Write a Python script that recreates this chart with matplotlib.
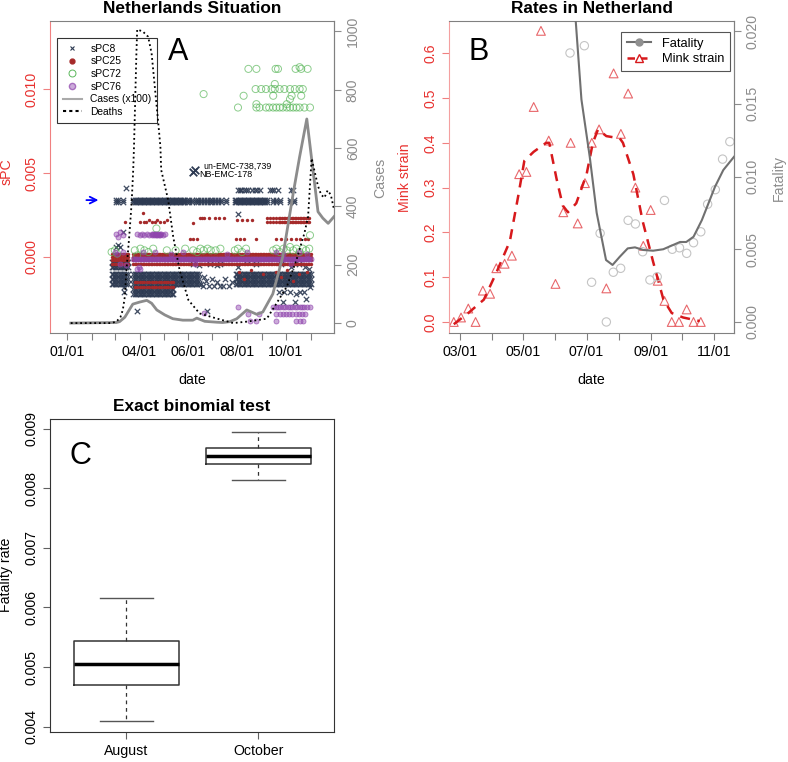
import matplotlib
matplotlib.use('Agg')
import matplotlib.pyplot as plt
from matplotlib.lines import Line2D

plt.rcParams['font.family'] = ['Liberation Sans', 'DejaVu Sans']

RED = '#E8312F'
GRAY = '#8C8C8C'
NAVY = '#2D3A52'
BROWN = '#A52A2A'
GREEN = '#5CB85C'
PURPLE = '#8E44AD'
TICK_FS = 10.2

# ---------------- panel A data (x = days since 2020-01-01) ----------------
month_days_a = [0, 31, 60, 91, 121, 152, 182, 213, 244, 274, 305]
month_labels_a = ['01/01', '', '', '04/01', '', '06/01', '', '08/01', '', '10/01', '']

# sampling days of the dense bands
days_mar = [56, 58, 60, 62, 64, 66, 68, 70, 72, 74, 76]
days_spring = [83, 85, 87, 89, 91, 93, 95, 97, 99, 101, 103, 105, 107, 109, 111, 113, 115,
               117, 119, 121, 123, 125, 127, 129, 131, 133, 135, 137, 139, 141, 143, 145,
               147, 149, 151, 153, 155, 157, 159, 161, 163, 165]
days_summer = [167, 169, 171, 173, 175, 177, 179, 181, 183, 185, 187, 189, 191, 193, 195,
               197, 199, 201, 203, 205, 207, 209]
days_autumn = [211, 213, 215, 217, 219, 221, 223, 225, 227, 229, 231, 233, 235, 237, 239,
               241, 243, 245, 247, 249, 251, 253, 255, 257, 259, 261, 263, 265, 267, 269,
               271, 273, 275, 277, 279, 281, 283, 285, 287, 289, 291, 293, 295, 297, 299,
               301, 303, 305]

# sPC8
s8_top_days = [62, 64, 70, 83, 85, 87, 89, 91, 93, 95, 97, 99, 101, 103, 105, 107, 109, 111,
               113, 115, 117, 119, 121, 123, 125, 127, 129, 131, 133, 135, 137, 139, 141, 143,
               145, 147, 150, 153, 156, 161, 164, 168, 172, 175, 179, 182, 185, 189, 193, 199,
               210, 212, 214, 216, 218, 220, 222, 224, 226, 228, 230, 232, 234, 236, 238, 240,
               242, 244, 246, 248, 250, 258, 261, 266, 279, 284]
s8_top_levels = [0.00325, 0.0034]
s8_up_days = [214, 216, 218, 221, 224, 227, 232, 235, 238, 241, 254, 257, 259, 264, 280, 283]
s8_up_level = 0.0040
s8_mid_levels = [-0.0010, -0.0013, -0.0016]
s8_mid_summer_d = [168, 171, 174, 178, 181, 184, 188, 191, 195, 198, 203, 207]
s8_mid_summer_v = [-0.0016, -0.0012, -0.0014, -0.0017, -0.0013, -0.0017, -0.0015, -0.0017,
                   -0.0017, -0.0013, -0.0017, -0.0015]
s8_low_days = [83, 85, 87, 89, 91, 93, 95, 97, 99, 101, 103, 105, 107, 109, 111, 113, 115,
               117, 119, 121, 123, 125, 127, 129, 131, 133]
s8_low_levels = [-0.0019, -0.0022]
s8_near0_levels = [-0.0003, -0.0006]
s8_misc_d = [61, 64, 67, 158, 165, 179, 188, 191, 214, 225, 236, 268, 280, 290, 298, 303,
             265, 271, 279, 287, 292, 296, 270, 285, 304, 299, 74, 70, 71, 72, 88, 175, 214, 170]
s8_misc_v = [0.0006, 0.0007, 0.0006, -0.0004, -0.0005, -0.0004, -0.0005, -0.0004, -0.0006,
             -0.0002, -0.0004, -0.0004, -0.0006, -0.0004, -0.0006, -0.0007, -0.0021, -0.0021,
             -0.0021, -0.0022, -0.0021, -0.0021, -0.0027, -0.0027, -0.0018, -0.0025, 0.00413,
             0.00152, -0.0018, -0.0021, -0.0032, -0.0032, 0.00257, -0.0017]
s8_named_d = [158, 160]
s8_named_v = [0.00508, 0.00518]

# sPC25
s25_band_levels = [0.0002, 0.0, -0.0002, -0.0004]
s25_hi_d = [73, 92, 95, 96, 99, 103, 106, 110, 113, 117, 121, 125, 158, 166, 169, 172, 178,
            185, 190, 197, 213, 219, 225, 232]
s25_hi_v = [0.0021, 0.0021, 0.0026, 0.0021, 0.0021, 0.0022, 0.0021, 0.0021, 0.0022, 0.0021,
            0.0021, 0.0022, 0.0020, 0.0023, 0.0023, 0.0023, 0.0023, 0.0023, 0.0023, 0.0023,
            0.0022, 0.0022, 0.0022, 0.0022]
s25_oct_days = [250, 254, 258, 262, 265, 267, 269, 271, 273, 275, 277, 279, 281, 283, 285,
                287, 289, 291, 293, 295, 297, 299, 301, 303]
s25_oct_levels = [0.0021, 0.0023]
s25_mid_days = [154, 158, 163, 212, 217, 222, 237, 262, 268, 274, 280, 286, 292, 298, 302]
s25_mid_level = 0.0011
s25_low_days = [85, 88, 91, 94, 97, 100, 103, 106, 109, 112, 115, 118, 121, 124, 127, 130, 133]
s25_low_levels = [-0.0015, -0.0018]
s25_misc_d = [215, 222, 230, 245, 262, 268, 275, 283, 290, 300]
s25_misc_v = [-0.0009, -0.0013, -0.0008, -0.0010, -0.0009, -0.0012, -0.0008, -0.0014,
              -0.0010, -0.0009]

# sPC72
s72_d = [56, 60, 63, 85, 88, 92, 97, 102, 108, 125, 136, 148, 158, 163, 167, 171, 176, 180,
         186, 192, 210, 214, 219, 224, 258, 262, 266, 271, 275, 279, 283, 287, 291, 295, 299,
         303, 304, 112,
         227, 237, 261, 264, 286, 291, 293, 301,
         236, 243, 249, 256, 260, 266, 272, 279, 285, 291, 295, 260,
         171, 221, 258, 281, 293, 279,
         214, 237, 241, 249, 253, 258, 262, 266, 270, 275, 279, 283, 287, 291, 297, 304, 237, 275]
s72_v = [0.0003, 0.0004, 0.0002, 0.0004, 0.0001, 0.0005, 0.0004, 0.0003, 0.0005, 0.0004,
         0.0004, 0.0005, 0.0004, 0.0003, 0.0005, 0.0004, 0.0005, 0.0004, 0.0004, 0.0005,
         0.0004, 0.0005, 0.0003, 0.0005, 0.0004, 0.0005, 0.0003, 0.0005, 0.0004, 0.0006,
         0.0004, 0.0005, 0.0003, 0.0005, 0.0004, 0.0005, 0.0013, 0.0017,
         0.0112, 0.0112, 0.0112, 0.0112, 0.0112, 0.0113, 0.0112, 0.0112,
         0.0100, 0.0100, 0.0100, 0.0100, 0.0100, 0.0100, 0.0100, 0.0100, 0.0100, 0.0100,
         0.0100, 0.0103,
         0.0097, 0.0096, 0.0096, 0.0096, 0.0096, 0.0094,
         0.0089, 0.0089, 0.0089, 0.0089, 0.0089, 0.0089, 0.0089, 0.0089, 0.0089, 0.0089,
         0.0089, 0.0089, 0.0089, 0.0089, 0.0089, 0.0089, 0.0091, 0.0091]

# sPC76
s76_line_level = -0.0001
s76_d = [60, 63, 66, 70, 74, 88, 90, 92, 95, 110, 130, 145, 160, 200, 225, 262, 270, 280,
         290, 300,
         62, 64, 67, 70, 88, 91, 94, 97, 100, 103, 106, 107, 108, 109, 110, 111, 112, 113,
         114, 115, 116, 117, 118, 120, 123,
         214, 258, 261, 264, 267, 270, 273, 276, 279, 282, 285, 288, 291, 294, 297, 300, 304,
         227, 240, 262, 266, 270, 274, 278, 282, 286, 290, 294, 298,
         229, 237, 262, 287, 291, 295, 172]
s76_v = [0.0003, 0.0002, -0.0004, 0.0003, -0.0005, -0.0007, -0.0006, -0.0007, 0.0003,
         0.0003, 0.0002, 0.0003, -0.0004, 0.0002, 0.0003, 0.0003, 0.0002, -0.0004, 0.0003,
         0.0002,
         0.0014, 0.0012, 0.0015, 0.0013, 0.0014, 0.0013, 0.0014, 0.0013, 0.0014, 0.0013,
         0.0014, 0.0013, 0.0014, 0.0013, 0.0014, 0.0013, 0.0014, 0.0013, 0.0014, 0.0013,
         0.0014, 0.0013, 0.0014, 0.0013, 0.0014,
         -0.0030, -0.0030, -0.0030, -0.0030, -0.0030, -0.0030, -0.0030, -0.0030, -0.0030,
         -0.0030, -0.0030, -0.0030, -0.0030, -0.0030, -0.0030, -0.0030, -0.0030,
         -0.0034, -0.0034, -0.0034, -0.0034, -0.0034, -0.0034, -0.0034, -0.0034, -0.0034,
         -0.0034, -0.0034, -0.0034,
         -0.0038, -0.0038, -0.0038, -0.0038, -0.0038, -0.0038, -0.0033]

# cases (x100) and deaths, right axis
cases_d = [5, 62, 66, 72.5, 82.5, 91, 100, 106, 112.5, 122.5, 132.5, 145, 157.5, 162.5, 172.5,
           187.5, 195, 204, 212.5, 225, 237.5, 245, 257.5, 270, 283, 291, 300, 314, 320,
           326.7, 334]
cases_v = [0, 2, 5, 20, 65, 72, 78, 68, 45, 28, 15, 10, 10, 17, 6, 3, 2, 5, 15, 45, 30, 38,
           100, 228, 445, 570, 700, 382, 360, 342, 365]
deaths_d = [5, 55, 62, 67, 70, 72.5, 74.6, 78, 81, 83, 84, 87, 88, 95, 101.7, 106, 114, 117,
            118, 126.7, 133, 141, 152, 166, 187, 208, 225, 250, 262, 275, 287, 297, 301.6,
            306, 314, 318, 322, 326, 330, 334]
deaths_v = [0, 0, 5, 20, 45, 90, 182, 296, 410, 525, 605, 925, 1007, 1000, 982, 925, 696,
            605, 525, 422, 296, 182, 79, 33, 16, 0, 5, 15, 67, 125, 216, 308, 365, 565, 470,
            440, 430, 455, 440, 390]

# ---------------- panel B data ----------------
month_days_b = [60, 91, 121, 152, 182, 213, 244, 274, 305]
month_labels_b = ['03/01', '', '05/01', '', '07/01', '', '09/01', '', '11/01']
mink_d = [54, 61, 68, 75, 82, 89, 95, 103, 110, 117, 124, 131, 138, 145.5, 152, 159.5, 166.6,
          173.4, 180.4, 187, 194, 201, 208, 215, 222, 229, 236.6, 243.7, 250.5, 257, 264,
          271, 278.4, 285, 292]
mink_v = [0.0, 0.01, 0.03, 0.0, 0.07, 0.063, 0.12, 0.13, 0.148, 0.33, 0.335, 0.48, 0.65,
          0.405, 0.085, 0.245, 0.40, 0.22, 0.31, 0.40, 0.43, 0.075, 0.555, 0.42, 0.51, 0.30,
          0.17, 0.25, 0.092, 0.047, 0.0, 0.0, 0.028, 0.0, 0.0]
mink_smooth_d = [54, 68, 83, 95, 108, 116, 122, 131, 143, 146, 153, 159, 164, 172, 182, 188,
                 193, 201, 214, 217, 227, 236, 246, 256, 264, 275, 291]
mink_smooth_v = [-0.005, 0.02, 0.05, 0.11, 0.18, 0.28, 0.36, 0.38, 0.40, 0.40, 0.32, 0.26,
                 0.245, 0.265, 0.33, 0.40, 0.43, 0.415, 0.41, 0.40, 0.33, 0.225, 0.135, 0.05,
                 0.02, 0.01, 0.002]
fat_d = [166, 179.8, 186.8, 195, 201, 207.7, 214.8, 222, 229, 236, 243, 250, 257, 264.5,
         271.5, 278.4, 285, 292, 298.6, 306, 313, 320]
fat_v = [0.0185, 0.0190, 0.00273, 0.0061, 0.0, 0.00342, 0.00369, 0.00699, 0.00674, 0.00483,
         0.00289, 0.00311, 0.00836, 0.0050, 0.0051, 0.00472, 0.00545, 0.0062, 0.0081, 0.0091,
         0.0112, 0.0124]
fat_line_d = [160, 171.5, 177, 185, 191.7, 200.7, 207, 214, 221.6, 228.6, 236.6, 246, 255.8,
              265.5, 272, 278, 285, 293, 305.7, 313.7, 324]
fat_line_v = [0.030, 0.0207, 0.0153, 0.01136, 0.0075, 0.00426, 0.00392, 0.00449, 0.00506,
              0.00513, 0.00495, 0.0049, 0.0050, 0.0053, 0.0055, 0.0055, 0.00586, 0.0070,
              0.0093, 0.01045, 0.01136]

# ---------------- panel C data ----------------
box_labels = ['August', 'October']
box_whislo = [0.00409, 0.00814]
box_q1 = [0.0047, 0.0084]
box_med = [0.00505, 0.008545]
box_q3 = [0.00544, 0.00868]
box_whishi = [0.00616, 0.00895]


def rot_yticks(ax):
    for lab in ax.get_yticklabels():
        lab.set_rotation(90)
        lab.set_va('center')


def band(ax, days, levels, **kw):
    for lv in levels:
        ax.scatter(days, [lv] * len(days), **kw)


fig = plt.figure(figsize=(7.88, 7.62), dpi=100)
W, H = 788.0, 762.0
axA = fig.add_axes([50 / W, 1 - 333 / H, 284 / W, 312 / H])
axB = fig.add_axes([449 / W, 1 - 333 / H, 285 / W, 312 / H])
axC = fig.add_axes([50 / W, 1 - 732 / H, 284 / W, 313 / H])

kw8 = dict(marker='x', s=15, c=NAVY, linewidths=0.9, alpha=0.9)
kw25 = dict(marker='o', s=6, c=BROWN, linewidths=0)
kw72 = dict(marker='o', s=26, facecolors='none', edgecolors=GREEN, linewidths=0.7, alpha=0.7)
kw76 = dict(marker='o', s=13, facecolors=(0.56, 0.27, 0.68, 0.45),
            edgecolors=(0.56, 0.27, 0.68, 0.7), linewidths=0.6)

# ---- A: scatter on sPC axis
band(axA, s8_top_days, s8_top_levels, **kw8)
band(axA, s8_up_days, [s8_up_level], **kw8)
band(axA, days_mar + days_spring + days_autumn, s8_mid_levels, **kw8)
axA.scatter(s8_mid_summer_d, s8_mid_summer_v, **kw8)
band(axA, s8_low_days, s8_low_levels, **kw8)
band(axA, days_mar, s8_near0_levels, **kw8)
axA.scatter(s8_misc_d, s8_misc_v, **kw8)
axA.scatter(s8_named_d, s8_named_v, marker='x', s=30, c=NAVY, linewidths=1.3)

all_days = days_mar + days_spring + days_summer + days_autumn
band(axA, all_days, s25_band_levels, **kw25)
axA.scatter(s25_hi_d, s25_hi_v, **kw25)
band(axA, s25_oct_days, s25_oct_levels, **kw25)
band(axA, s25_mid_days, [s25_mid_level], **kw25)
band(axA, s25_low_days, s25_low_levels, **kw25)
axA.scatter(s25_misc_d, s25_misc_v, **kw25)

axA.scatter(s72_d, s72_v, **kw72)

band(axA, days_spring + days_summer + days_autumn, [s76_line_level], **kw76)
axA.scatter(s76_d, s76_v, **kw76)

axA.annotate('', xy=(43, 0.00339), xytext=(21, 0.00339),
             arrowprops=dict(arrowstyle='->', color='blue', lw=1.3, mutation_scale=12))
axA.text(171, 0.00542, 'un-EMC-738,739', fontsize=6.4, va='center', ha='left')
axA.text(166, 0.00492, 'NB-EMC-178', fontsize=6.4, va='center', ha='left')

axA.set_xlim(-21, 334)
axA.set_ylim(-0.00452, 0.01405)
axA.set_xticks(month_days_a)
axA.set_xticklabels(month_labels_a)
axA.set_yticks([0.0, 0.005, 0.010])
axA.set_yticklabels(['0.000', '0.005', '0.010'])
axA.tick_params(axis='y', colors='#F08080', labelcolor=RED, labelsize=TICK_FS, length=5)
axA.tick_params(axis='x', colors='#808080', labelcolor='black', labelsize=TICK_FS, length=5)
rot_yticks(axA)
for side in ['top', 'right', 'bottom']:
    axA.spines[side].set_color('#808080')
axA.spines['left'].set_color('#F08080')
axA.set_title('Netherlands Situation', fontweight='bold', fontsize=12.4, pad=6)
axA.text(0.451, 0.90, 'A', transform=axA.transAxes, fontsize=22, ha='center', va='center')

axA2 = axA.twinx()
axA2.plot(cases_d, cases_v, color=GRAY, lw=2)
axA2.plot(deaths_d, deaths_v, color='black', lw=1.3, ls=(0, (1, 1.6)))
axA2.set_ylim(-34, 1036)
axA2.set_yticks([0, 200, 400, 600, 800, 1000])
axA2.tick_params(axis='y', colors=GRAY, labelcolor=GRAY, labelsize=TICK_FS, length=5)
rot_yticks(axA2)
for side in ['left', 'top', 'bottom']:
    axA2.spines[side].set_visible(False)
axA2.spines['right'].set_color('#808080')

handlesA = [
    Line2D([], [], ls='none', marker='x', ms=3, color=NAVY, mew=0.8),
    Line2D([], [], ls='none', marker='o', ms=3.5, color=BROWN),
    Line2D([], [], ls='none', marker='o', ms=5, mfc='none', mec=GREEN, mew=0.7),
    Line2D([], [], ls='none', marker='o', ms=4.5, mfc=(0.56, 0.27, 0.68, 0.45),
           mec=(0.56, 0.27, 0.68, 0.7)),
    Line2D([], [], color='#AAAAAA', lw=1.5),
    Line2D([], [], color='black', lw=1.5, ls=(0, (1.5, 1.5))),
]
legA = axA.legend(handlesA, ['sPC8', 'sPC25', 'sPC72', 'sPC76', 'Cases (x100)', 'Deaths'],
                  loc='upper left', bbox_to_anchor=(0.0246, 0.9455), fontsize=7.4,
                  frameon=True, fancybox=False, edgecolor='black', facecolor='none',
                  borderaxespad=0, handlelength=1.9, handletextpad=0.8, labelspacing=0.26,
                  borderpad=0.55)
legA.get_frame().set_linewidth(0.8)

fig.text(7 / W, 1 - 172 / H, 'sPC', color=RED, fontsize=TICK_FS, rotation=90, ha='center', va='center')
fig.text(380 / W, 1 - 178 / H, 'Cases', color=GRAY, fontsize=TICK_FS, rotation=90, ha='center', va='center')
fig.text(192 / W, 1 - 380 / H, 'date', fontsize=TICK_FS, ha='center', va='center')

# ---- B
axB.scatter(mink_d, mink_v, marker='^', s=40, facecolors='none', edgecolors='#E8676B', linewidths=0.8)
axB.plot(mink_smooth_d, mink_smooth_v, color='#D7191C', lw=1.8, ls=(0, (4, 3)))
axB.set_xlim(49.4, 324)
axB.set_ylim(-0.0246, 0.672)
axB.set_xticks(month_days_b)
axB.set_xticklabels(month_labels_b)
axB.set_yticks([0.0, 0.1, 0.2, 0.3, 0.4, 0.5, 0.6])
axB.tick_params(axis='y', colors='#F08080', labelcolor=RED, labelsize=TICK_FS, length=5)
axB.tick_params(axis='x', colors='#808080', labelcolor='black', labelsize=TICK_FS, length=5)
rot_yticks(axB)
for side in ['top', 'right', 'bottom']:
    axB.spines[side].set_color('#808080')
axB.spines['left'].set_color('#F4A0A0')
axB.set_title('Rates in Netherland', fontweight='bold', fontsize=12.4, pad=6)
axB.text(0.105, 0.90, 'B', transform=axB.transAxes, fontsize=22, ha='center', va='center')

axB2 = axB.twinx()
axB2.scatter(fat_d, fat_v, marker='o', s=36, facecolors='none', edgecolors='#C4C4C4', linewidths=0.8)
axB2.plot(fat_line_d, fat_line_v, color='#707070', lw=1.5)
axB2.set_ylim(-0.00076, 0.0207)
axB2.set_yticks([0.0, 0.005, 0.010, 0.015, 0.020])
axB2.set_yticklabels(['0.000', '0.005', '0.010', '0.015', '0.020'])
axB2.tick_params(axis='y', colors=GRAY, labelcolor=GRAY, labelsize=TICK_FS, length=5)
rot_yticks(axB2)
for side in ['left', 'top', 'bottom']:
    axB2.spines[side].set_visible(False)
axB2.spines['right'].set_color('#808080')

handlesB = [
    Line2D([], [], color='#707070', lw=1.5, marker='o', ms=5, mfc='#909090', mec='#909090'),
    Line2D([], [], color='#D7191C', lw=1.8, ls=(0, (3, 2)), marker='^', ms=6, mfc='white',
           mec='#D7191C'),
]
legB = axB2.legend(handlesB, ['Fatality', 'Mink strain'], loc='upper right',
                   bbox_to_anchor=(0.986, 0.965), fontsize=9.3, frameon=True, fancybox=False,
                   edgecolor='#555555', facecolor='white', framealpha=1, borderaxespad=0,
                   handlelength=1.9, handletextpad=0.8, labelspacing=0.25, borderpad=0.45)
legB.get_frame().set_linewidth(0.8)

fig.text(405 / W, 1 - 178 / H, 'Mink strain', color=RED, fontsize=TICK_FS, rotation=90, ha='center', va='center')
fig.text(779 / W, 1 - 178 / H, 'Fatality', color=GRAY, fontsize=TICK_FS, rotation=90, ha='center', va='center')
fig.text(591 / W, 1 - 380 / H, 'date', fontsize=TICK_FS, ha='center', va='center')

# ---- C
stats = []
for i in range(len(box_labels)):
    stats.append(dict(med=box_med[i], q1=box_q1[i], q3=box_q3[i], whislo=box_whislo[i],
                      whishi=box_whishi[i], fliers=[], label=box_labels[i]))
axC.bxp(stats, positions=[1, 2], widths=0.8, showfliers=False, capwidths=0.4,
        boxprops=dict(color='#333333', lw=1.1),
        medianprops=dict(color='black', lw=2.5),
        whiskerprops=dict(color='#333333', lw=0.9, ls=(0, (3, 3))),
        capprops=dict(color='#555555', lw=1))
axC.set_xlim(0.42, 2.575)
axC.set_ylim(0.00391, 0.00916)
axC.set_yticks([0.004, 0.005, 0.006, 0.007, 0.008, 0.009])
axC.set_yticklabels(['0.004', '0.005', '0.006', '0.007', '0.008', '0.009'])
axC.tick_params(axis='both', colors='#606060', labelcolor='black', labelsize=TICK_FS, length=5)
rot_yticks(axC)
for side in axC.spines:
    axC.spines[side].set_color('#333333')
axC.set_title('Exact binomial test', fontweight='bold', fontsize=12.4, pad=6)
axC.text(0.106, 0.882, 'C', transform=axC.transAxes, fontsize=22, ha='center', va='center')
fig.text(6 / W, 1 - 575 / H, 'Fatality rate', fontsize=TICK_FS, rotation=90, ha='center', va='center')

fig.savefig('out.png', dpi=100)
